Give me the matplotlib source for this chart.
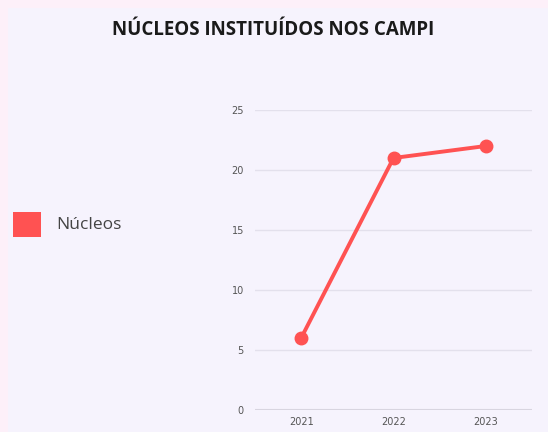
import matplotlib
matplotlib.use("Agg")
import matplotlib.pyplot as plt
from matplotlib.patches import Rectangle

years = ["2021", "2022", "2023"]
nucleos = [6, 21, 22]
y_ticks = [0, 5, 10, 15, 20, 25]
title = "NÚCLEOS INSTITUÍDOS NOS CAMPI"
series_name = "Núcleos"

W, H = 548, 432
fig = plt.figure(figsize=(W/100, H/100), dpi=100)
fig.patch.set_facecolor("#FDF0F9")
fig.add_artist(Rectangle((8/W, 0), 1 - 8/W, 1 - 8/H, transform=fig.transFigure,
                         facecolor="#F6F3FD", edgecolor="none", zorder=0))

ax = fig.add_axes([255/W, 1 - 410/H, (532-255)/W, (410-110)/H])
ax.set_facecolor("none")
x = list(range(len(years)))
ax.plot(x, nucleos, color="#FF5252", lw=2.8, marker="o", ms=9, zorder=3)
ax.set_xlim(-0.5, 2.5)
ax.set_ylim(0, 25)
ax.set_yticks(y_ticks)
ax.set_xticks(x)
ax.set_xticklabels(years)
for s in ax.spines.values():
    s.set_visible(False)
ax.grid(axis="y", color="#E3E0EC", lw=1)
ax.set_axisbelow(True)
ax.tick_params(length=0, labelsize=7, labelcolor="#555555", pad=8)
ax.tick_params(axis="x", pad=5)
ax.axhline(0, color="#D8D5E0", lw=1.5, zorder=1)

fig.text(273/W, 1 - 30/H, title, ha="center", va="center", fontsize=13.5,
         fontweight="bold", family="Open Sans", color="#1A1A1A")

fig.add_artist(Rectangle((13/W, 1 - 237/H), 28/W, 25/H, transform=fig.transFigure,
                         facecolor="#FF5252", edgecolor="none"))
fig.text(56/W, 1 - 225/H, series_name, ha="left", va="center", fontsize=12.5,
         family="Open Sans", color="#444444")

fig.savefig("out.png", dpi=100, facecolor=fig.get_facecolor())
